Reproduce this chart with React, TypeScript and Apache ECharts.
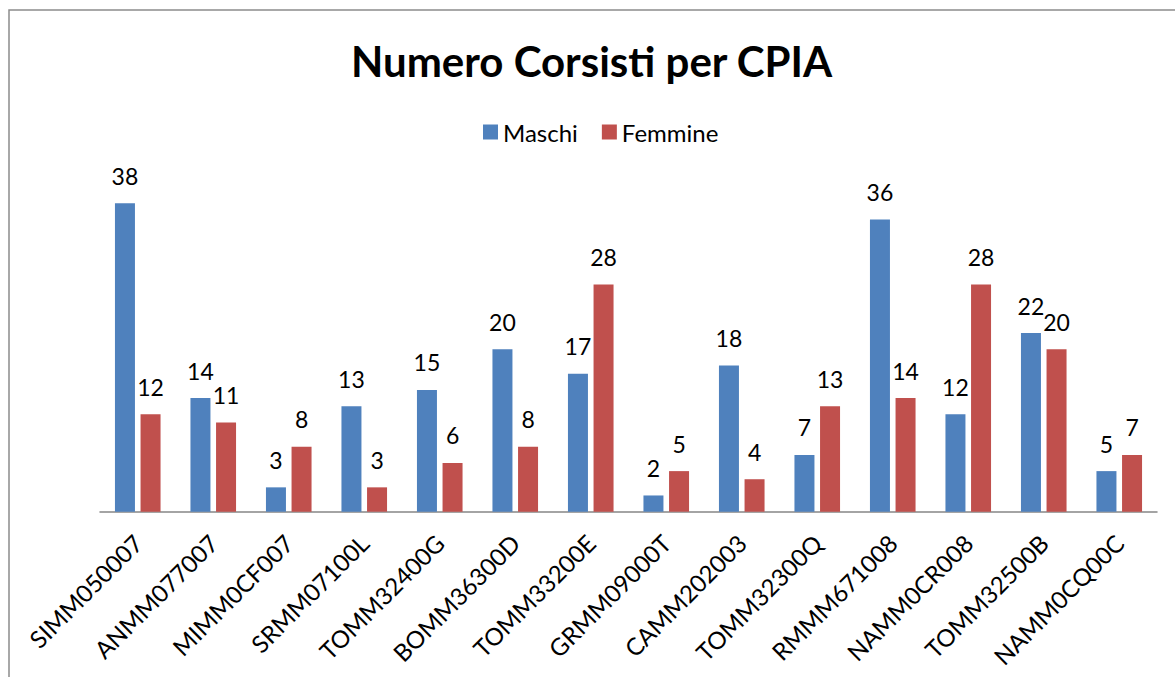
import React, { useEffect, useRef } from "react";
import * as echarts from "echarts";

const categories = [
  "SIMM050007", "ANMM077007", "MIMM0CF007", "SRMM07100L", "TOMM32400G",
  "BOMM36300D", "TOMM33200E", "GRMM09000T", "CAMM202003", "TOMM32300Q",
  "RMMM671008", "NAMM0CR008", "TOMM32500B", "NAMM0CQ00C",
];
const maschi = [38, 14, 3, 13, 15, 20, 17, 2, 18, 7, 36, 12, 22, 5];
const femmine = [12, 11, 8, 3, 6, 8, 28, 5, 4, 13, 14, 28, 20, 7];

const FONT = "Lato";

export default function App() {
  const ref = useRef<HTMLDivElement>(null);
  useEffect(() => {
    if (!ref.current) return;
    const chart = echarts.init(ref.current, null, { renderer: "svg" });
    const labelCfg = {
      show: true,
      position: "top",
      distance: 16,
      color: "#000",
      fontFamily: FONT,
      fontSize: 23,
    };
    chart.setOption({
      animation: false,
      backgroundColor: "#fff",
      title: {
        text: "Numero Corsisti per CPIA",
        left: 346,
        top: 35,
        textStyle: { fontFamily: FONT, fontWeight: "bold", fontSize: 42, color: "#000" },
      },
      legend: {
        left: 478,
        top: 115,
        icon: "rect",
        itemWidth: 15,
        itemHeight: 15,
        itemGap: 24,
        textStyle: { fontFamily: FONT, fontSize: 24, color: "#000" },
        data: ["Maschi", "Femmine"],
      },
      graphic: [
        {
          type: "rect",
          shape: { x: 9, y: 10, width: 1250, height: 750 },
          style: { fill: "none", stroke: "#8c8c8c", lineWidth: 1.5 },
          silent: true,
          z: -10,
        },
      ],
      grid: { left: 100, right: 18, top: 187, bottom: 165.3 },
      xAxis: {
        type: "category",
        data: categories,
        axisLine: { lineStyle: { color: "#868686", width: 1.5 } },
        axisTick: { show: false },
        axisLabel: {
          rotate: 45,
          interval: 0,
          margin: 27,
          color: "#000",
          fontFamily: FONT,
          fontSize: 24,
        },
      },
      yAxis: {
        type: "value",
        min: 0,
        max: 40,
        show: false,
        splitLine: { show: false },
      },
      series: [
        {
          name: "Maschi",
          type: "bar",
          data: maschi,
          barWidth: 20,
          barGap: "28%",
          itemStyle: { color: "#4F81BD" },
          label: labelCfg,
        },
        {
          name: "Femmine",
          type: "bar",
          data: femmine,
          barWidth: 20,
          itemStyle: { color: "#C0504D" },
          label: labelCfg,
        },
      ],
    });
    return () => chart.dispose();
  }, []);
  return (
    <div
      ref={ref}
      style={{ position: "fixed", left: 0, top: 0, width: 1175, height: 677 }}
    />
  );
}
